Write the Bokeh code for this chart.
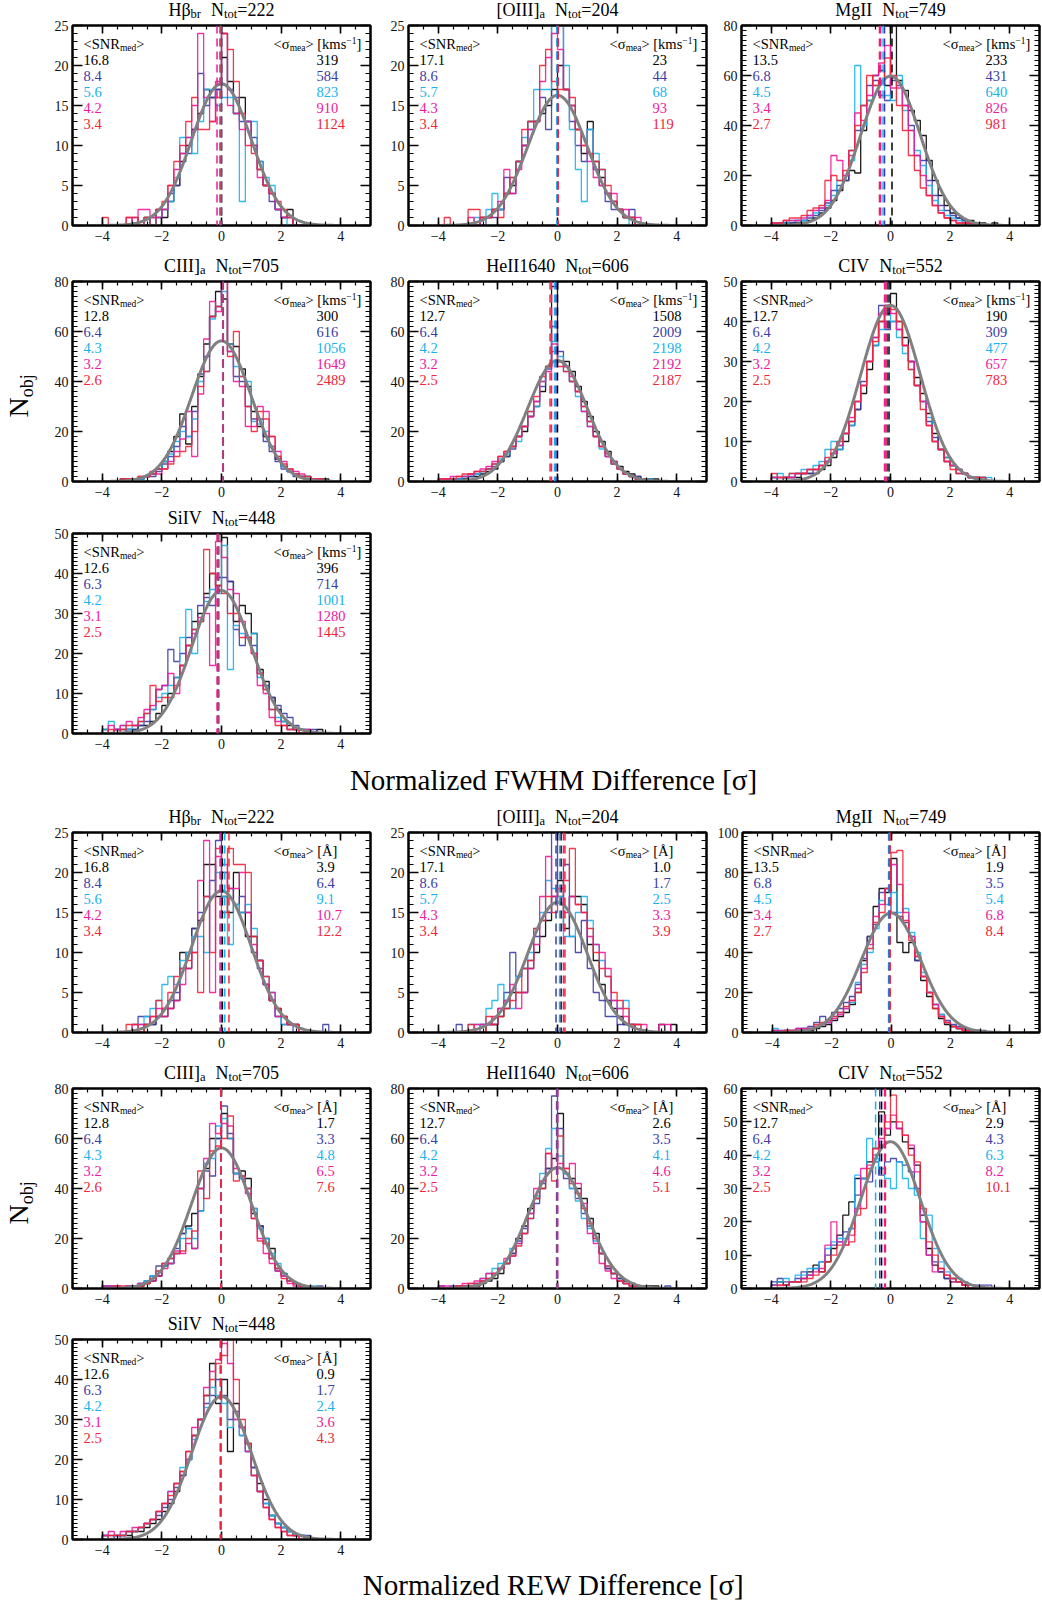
import numpy as np
from bokeh.plotting import figure
from bokeh.models import Label, Span, Range1d, LinearAxis, SingleIntervalTicker, CustomJSTickFormatter
from bokeh.layouts import column, row
from bokeh.embed import file_html
from bokeh.resources import INLINE

# ---------------- data ----------------
LINES = ["Hβ", "[OIII]", "MgII", "CIII]", "HeII1640", "CIV", "SiIV"]
LINE_SUB = ["br", "a", "", "a", "", "", ""]
NTOT = [222, 204, 749, 705, 606, 552, 448]
SNR = [["16.8", "8.4", "5.6", "4.2", "3.4"],
       ["17.1", "8.6", "5.7", "4.3", "3.4"],
       ["13.5", "6.8", "4.5", "3.4", "2.7"],
       ["12.8", "6.4", "4.3", "3.2", "2.6"],
       ["12.7", "6.4", "4.2", "3.2", "2.5"],
       ["12.7", "6.4", "4.2", "3.2", "2.5"],
       ["12.6", "6.3", "4.2", "3.1", "2.5"]]
SIG_FWHM = [["319", "584", "823", "910", "1124"],
            ["23", "44", "68", "93", "119"],
            ["233", "431", "640", "826", "981"],
            ["300", "616", "1056", "1649", "2489"],
            ["1508", "2009", "2198", "2192", "2187"],
            ["190", "309", "477", "657", "783"],
            ["396", "714", "1001", "1280", "1445"]]
SIG_REW = [["3.9", "6.4", "9.1", "10.7", "12.2"],
           ["1.0", "1.7", "2.5", "3.3", "3.9"],
           ["1.9", "3.5", "5.4", "6.8", "8.4"],
           ["1.7", "3.3", "4.8", "6.5", "7.6"],
           ["2.6", "3.5", "4.1", "4.6", "5.1"],
           ["2.9", "4.3", "6.3", "8.2", "10.1"],
           ["0.9", "1.7", "2.4", "3.6", "4.3"]]
YMAX_FWHM = [25, 25, 80, 80, 80, 50, 50]
YMAX_REW = [25, 25, 100, 80, 80, 60, 50]
# medians per series (black, blue, cyan, magenta, red)
MED_FWHM = [[0.0, 0.0, -0.03, -0.15, -0.05],
            [0.0, 0.0, -0.02, 0.02, 0.02],
            [0.05, -0.2, -0.25, -0.33, -0.37],
            [0.04, 0.05, 0.05, 0.06, 0.06],
            [0.0, -0.05, -0.1, -0.2, -0.25],
            [-0.05, -0.1, -0.15, -0.2, -0.15],
            [-0.1, -0.1, -0.12, -0.15, -0.12]]
MED_REW = [[0.03, -0.01, 0.11, -0.05, 0.25],
           [0.12, -0.05, 0.07, 0.2, 0.25],
           [-0.05, -0.08, -0.06, -0.04, -0.03],
           [-0.02, -0.02, -0.02, -0.02, -0.02],
           [-0.02, -0.03, 0.0, 0.0, 0.0],
           [-0.3, -0.36, -0.5, -0.2, -0.17],
           [-0.03, -0.03, -0.03, -0.03, -0.03]]

# histogram counts, 40 bins of width 0.2 starting at -4.0; order black, blue, cyan, magenta, red
H_FWHM_HB = [
    [0,0,0,0,0,0,0,1,0,2,1,3,5,8,10,12,14,17,16,17,21,18,14,16,13,10,7,5,4,2,1,2,0,0,0,0,0,0,0,0],
    [0,0,0,0,0,1,0,0,1,1,2,4,5,9,9,12,19,15,16,17,24,17,16,13,13,11,8,5,3,2,1,1,0,0,0,0,0,0,0,0],
    [0,0,0,0,0,0,0,1,0,1,2,3,6,11,11,9,13,17,17,15,16,16,14,3,13,13,8,6,5,2,1,0,0,0,0,0,0,0,0,0],
    [0,0,0,0,1,0,2,2,1,1,2,5,7,9,11,15,24,16,13,18,24,15,14,12,13,10,6,5,4,2,1,1,0,0,0,0,0,0,0,0],
    [1,0,0,0,1,1,0,1,0,2,3,5,8,10,13,16,12,12,13,16,24,22,18,14,10,9,7,5,4,3,2,1,0,0,0,0,0,0,0,0]]
H_FWHM_OIII = [
    [0,0,0,0,0,0,0,1,1,2,2,4,5,8,10,13,13,14,15,17,20,17,15,12,9,13,8,6,4,3,2,1,1,0,0,0,0,0,0,0],
    [0,0,0,0,0,0,0,0,1,1,2,6,4,8,10,12,13,16,12,25,25,17,13,10,8,12,7,5,3,2,2,1,2,0,0,0,0,0,0,0],
    [0,0,0,0,0,0,1,1,2,4,2,4,6,8,11,13,17,17,17,25,25,20,12,7,3,12,9,7,4,3,2,1,0,0,0,0,0,0,0,0],
    [0,0,0,0,0,1,0,1,1,2,3,7,4,7,10,12,13,18,21,24,22,17,15,12,10,8,6,5,4,4,2,2,1,1,0,0,0,0,0,0],
    [0,1,0,0,0,2,2,1,1,2,1,4,6,8,12,13,13,20,22,18,17,17,16,12,10,9,8,7,5,3,2,1,1,0,0,0,0,0,0,0]]
H_FWHM_MGII = [
    [0,0,1,1,1,2,2,3,5,7,10,14,18,22,21,38,50,60,62,56,80,58,54,46,42,36,26,18,12,8,5,3,2,2,1,1,0,1,0,0],
    [0,1,1,1,2,2,3,4,6,9,14,16,18,30,38,48,56,58,52,50,58,56,48,40,28,26,18,12,8,6,4,3,2,1,1,0,0,0,0,0],
    [1,1,1,2,2,2,4,5,7,8,12,18,20,26,64,40,50,56,57,52,50,60,46,38,30,24,16,10,6,4,3,2,1,1,0,0,0,0,0,0],
    [1,1,2,2,2,3,4,6,7,10,28,26,20,28,45,42,52,60,65,72,55,55,48,38,28,20,12,8,5,3,2,1,1,1,0,0,0,0,0,0],
    [1,1,2,3,3,4,6,7,8,18,20,18,22,30,40,48,60,56,58,67,60,48,38,28,22,15,12,8,5,3,2,1,1,1,1,0,0,0,0,0]]
H_FWHM_CIII = [
    [0,0,0,1,0,1,1,2,3,5,8,12,18,27,15,30,42,55,66,76,73,55,54,45,38,28,22,18,14,9,6,4,3,2,2,1,1,1,0,0],
    [0,0,0,0,0,1,1,2,2,4,7,10,14,22,18,28,43,50,66,70,80,52,42,40,30,25,25,16,12,8,5,4,2,2,1,1,0,0,0,0],
    [0,0,0,0,1,1,1,2,3,5,8,11,16,20,18,25,40,44,65,70,76,55,46,42,40,24,23,20,14,10,6,4,3,2,2,1,0,0,0,0],
    [0,0,0,0,1,1,2,2,4,3,5,8,12,17,28,10,35,57,72,68,80,52,40,38,22,22,30,28,18,12,8,5,4,3,1,1,1,0,0,0],
    [0,0,0,1,1,1,2,2,3,5,5,7,10,12,14,20,38,44,66,70,80,50,60,42,30,20,28,25,18,10,7,5,3,2,2,1,1,0,0,0]]
H_FWHM_HEII = [
    [0,0,1,1,1,2,2,3,4,5,8,10,14,18,20,26,30,36,46,78,48,48,44,38,32,26,20,16,12,8,6,4,3,2,1,1,1,0,0,0],
    [0,1,0,1,2,2,3,4,5,6,8,10,13,18,22,26,32,38,45,62,52,46,40,36,30,24,18,14,10,7,5,3,2,2,1,1,0,0,0,0],
    [1,0,1,1,2,3,3,4,5,7,9,11,14,16,22,28,30,40,46,56,50,44,40,34,28,22,18,13,10,7,5,3,2,1,1,1,0,0,0,0],
    [1,1,2,2,2,3,4,5,6,8,10,12,14,18,22,26,32,40,44,55,48,46,42,36,28,22,18,14,10,8,5,3,2,1,1,0,0,0,0,0],
    [1,1,1,2,3,3,4,4,5,7,10,12,14,18,22,28,34,42,46,52,46,44,40,36,30,24,18,14,11,7,5,3,2,1,1,0,0,0,0,0]]
H_FWHM_CIV = [
    [1,0,1,1,1,2,2,2,3,4,6,8,10,14,18,22,28,34,40,42,47,40,36,30,26,22,17,12,8,6,4,3,2,1,1,1,0,0,0,0],
    [0,1,1,1,2,2,2,3,4,5,7,9,12,15,18,25,30,36,44,38,40,38,34,30,24,20,15,11,8,5,4,2,2,1,1,0,0,0,0,0],
    [1,2,1,2,2,3,3,4,5,8,10,8,12,14,20,24,30,34,38,44,40,36,32,28,24,20,16,10,8,6,4,3,2,1,1,1,1,0,0,0],
    [1,1,1,1,2,2,3,3,4,5,7,9,12,16,20,24,30,36,42,44,42,38,34,30,24,20,14,10,8,5,4,3,2,1,1,0,0,0,0,0],
    [2,1,1,2,2,2,3,3,4,6,8,10,12,15,20,24,30,35,40,44,43,40,34,28,24,18,14,10,8,5,3,2,2,1,1,1,0,0,0,0]]
H_FWHM_SIIV = [
    [1,0,1,1,1,1,2,2,3,5,7,10,14,17,22,28,30,35,40,37,49,38,28,32,30,25,16,13,9,6,3,2,1,1,0,0,1,0,0,0],
    [0,0,1,0,1,1,2,3,6,11,12,21,18,20,24,26,32,34,32,39,39,38,26,22,24,22,15,12,9,7,5,4,2,1,1,1,0,0,0,0],
    [1,3,1,2,1,2,3,5,6,9,10,12,14,24,31,20,28,33,36,35,47,16,27,25,24,25,14,11,6,4,3,1,1,1,0,0,0,0,0,0],
    [0,2,1,2,3,2,4,6,7,11,12,15,10,17,22,25,29,30,17,48,44,36,35,28,24,20,12,10,4,3,2,1,1,0,1,0,0,0,0,0],
    [0,1,0,1,2,2,3,5,12,8,9,9,12,17,22,26,28,46,40,37,35,30,30,24,24,20,15,11,6,2,2,1,1,0,0,0,0,0,0,0]]

H_REW_HB = [
    [0,0,0,0,0,0,0,1,1,2,2,3,4,10,8,13,14,21,21,17,17,15,20,15,12,12,9,6,4,3,2,1,1,0,0,0,0,0,0,0],
    [0,0,0,0,0,0,2,2,1,2,3,4,5,8,10,13,15,17,19,24,20,18,16,17,15,10,8,6,4,2,1,1,0,0,0,0,0,1,0,0],
    [0,0,0,0,0,1,1,2,3,4,6,7,6,9,10,12,12,10,17,20,17,11,16,15,16,13,9,7,5,2,1,1,1,0,0,0,0,0,0,0],
    [0,0,0,0,0,1,1,1,2,3,2,3,4,6,8,10,19,24,5,22,21,18,18,20,15,11,9,6,5,2,2,1,1,0,0,0,0,0,0,0],
    [0,0,0,0,1,1,0,1,2,4,3,5,7,8,9,10,5,17,10,23,15,23,21,21,20,12,9,7,4,3,2,1,1,0,0,0,0,0,0,0]]
H_REW_OIII = [
    [0,0,0,0,0,0,0,0,1,1,2,3,5,5,5,8,10,12,14,17,19,13,17,17,16,11,9,6,4,3,2,1,1,0,0,0,0,1,0,1],
    [0,0,0,1,0,0,0,1,1,1,3,5,10,7,8,9,12,14,15,25,17,21,12,10,14,8,5,4,2,2,1,1,0,0,0,0,0,0,0,0],
    [0,0,0,0,0,1,1,1,3,4,6,4,3,7,8,10,13,15,19,18,17,12,12,15,17,14,11,9,7,4,3,4,1,1,0,0,0,0,0,0],
    [0,0,0,0,0,0,1,1,1,2,3,4,6,3,5,8,11,17,22,17,18,15,17,16,15,12,11,10,8,4,3,2,1,1,1,0,0,1,1,0],
    [0,0,0,0,0,1,0,0,2,1,2,3,4,5,8,9,13,14,17,15,18,19,23,16,15,13,10,8,7,5,4,3,1,1,0,0,0,0,0,0]]
H_REW_MGII = [
    [0,0,0,0,1,1,1,2,3,4,6,8,10,14,20,36,48,63,72,70,87,45,40,45,36,26,18,12,7,4,3,2,1,1,0,0,0,0,0,0],
    [1,0,1,1,2,2,3,5,8,6,10,12,15,18,24,37,48,54,70,72,60,58,55,48,36,28,20,14,9,6,4,3,2,1,1,1,0,0,0,0],
    [2,1,1,1,1,2,2,3,4,5,8,10,12,15,25,34,40,52,66,64,70,60,62,50,40,30,20,14,9,5,3,2,1,1,1,0,0,0,0,0],
    [1,1,1,1,2,2,2,3,4,5,7,9,12,16,22,32,44,58,64,72,84,74,60,48,38,28,20,14,8,5,3,2,1,1,1,0,0,0,0,0],
    [0,0,1,1,1,1,2,4,5,6,8,10,13,16,20,30,42,55,60,72,90,91,56,46,38,28,20,12,8,5,3,2,1,0,0,0,0,0,0,0]]
H_REW_CIII = [
    [1,1,0,0,1,1,1,2,3,5,9,10,14,22,25,30,40,48,60,60,70,60,46,47,44,30,25,20,16,8,6,3,2,1,1,0,0,0,0,0],
    [1,0,1,0,1,1,2,3,5,9,10,12,16,22,24,16,31,47,45,60,73,62,46,44,40,32,25,18,12,7,5,3,2,1,1,0,1,0,0,0],
    [1,1,1,0,1,1,2,3,5,7,9,10,14,20,24,20,31,50,52,65,68,60,46,44,40,32,24,20,14,10,6,3,2,1,1,1,0,0,0,0],
    [1,1,1,0,1,0,2,2,3,5,8,10,15,14,18,16,40,52,66,62,66,65,48,45,38,28,20,14,10,7,5,2,1,1,1,0,0,0,0,0],
    [0,0,1,1,0,1,1,2,4,7,10,12,14,15,20,23,47,36,55,57,60,69,43,45,40,28,19,18,12,8,4,3,2,1,1,0,0,0,0,0]]
H_REW_HEII = [
    [0,0,0,1,1,1,1,2,3,4,6,10,14,20,25,32,36,40,48,52,70,46,44,40,36,28,22,14,8,6,4,3,2,1,1,1,1,0,0,0],
    [1,0,1,1,1,1,2,3,4,6,8,10,14,19,24,30,34,42,48,77,64,44,40,36,30,25,20,14,8,6,4,2,2,1,1,0,0,0,1,0],
    [0,0,0,1,1,1,2,4,6,8,10,10,16,18,22,28,37,46,56,64,53,46,40,35,28,24,19,14,9,6,3,2,1,1,0,0,0,0,0,0],
    [1,1,0,1,2,2,3,4,6,6,8,12,13,18,22,30,40,43,54,48,50,48,50,42,34,22,18,10,7,4,3,2,1,1,1,0,0,0,0,0],
    [0,0,0,1,1,2,2,3,4,6,8,10,13,17,22,28,36,40,54,43,61,48,42,38,32,26,20,14,9,6,3,2,1,1,0,0,0,0,0,0]]
H_REW_CIV = [
    [1,2,1,2,2,3,5,7,5,8,12,16,22,26,33,33,38,42,53,46,50,48,44,42,37,22,12,7,5,3,3,2,1,0,0,0,0,0,0,0],
    [2,3,2,2,3,5,4,6,8,10,13,14,17,18,28,33,32,38,34,38,39,38,37,35,30,20,10,8,5,3,2,2,1,1,1,1,1,0,0,0],
    [1,2,3,2,4,4,6,6,8,12,14,15,15,18,34,33,45,39,36,33,30,38,33,30,28,15,22,12,8,5,3,3,2,1,0,0,0,0,0,0],
    [1,1,1,2,2,3,4,5,6,13,20,14,13,16,24,36,37,40,45,48,52,48,46,43,35,20,10,5,6,4,2,2,1,1,0,0,0,0,0,0],
    [0,1,1,2,2,2,3,4,5,8,10,13,13,14,22,24,36,42,43,50,58,50,46,40,38,24,14,10,6,4,3,2,1,0,0,0,0,0,0,0]]
H_REW_SIIV = [
    [1,0,1,1,1,2,2,3,4,5,7,9,12,16,20,26,30,36,44,34,40,22,34,28,24,18,14,10,6,4,3,2,1,1,0,0,0,0,0,0],
    [1,1,0,1,2,2,3,4,5,6,8,10,13,16,20,26,30,34,36,40,36,30,32,26,22,18,12,9,6,4,3,2,1,1,1,0,0,0,0,0],
    [1,0,1,1,2,2,3,4,5,7,9,12,14,18,20,25,30,33,38,36,34,28,30,26,22,16,12,9,6,4,3,2,1,1,0,0,0,0,0,0],
    [1,2,1,2,2,3,3,4,5,7,9,12,14,17,22,28,30,38,42,45,49,44,30,28,22,16,12,8,5,3,2,1,1,0,0,0,0,0,0,0],
    [0,1,1,1,2,2,3,4,5,7,9,11,14,17,22,26,30,36,40,44,46,52,40,30,24,16,12,8,5,3,2,1,1,0,0,0,0,0,0,0]]

HIST_FWHM = [H_FWHM_HB, H_FWHM_OIII, H_FWHM_MGII, H_FWHM_CIII, H_FWHM_HEII, H_FWHM_CIV, H_FWHM_SIIV]
HIST_REW = [H_REW_HB, H_REW_OIII, H_REW_MGII, H_REW_CIII, H_REW_HEII, H_REW_CIV, H_REW_SIIV]
BIN_LO = -4.0
BIN_W = 0.2

# ---------------- style ----------------
FONT = "Liberation Serif"
COLORS = ["#000000", "#3c3ca6", "#18b2f0", "#f0189c", "#f22438"]
GRAY = "#808080"
BASE_FIX = 0.33  # labels render ~0.33 em below the requested alphabetic baseline

CW = {' ': 250, '[': 333, ']': 333, '<': 564, '>': 564, '=': 564, '.': 250, '-': 333, '−': 564,
      'β': 500, 'σ': 549, 'Å': 722}
for ch in "0123456789":
    CW[ch] = 500
CW.update(dict(zip("ABCDEFGHIJKLMNOPQRSTUVWXYZ",
                   [722, 667, 667, 722, 611, 556, 722, 722, 333, 389, 722, 611, 889, 722, 722, 556, 722, 667, 556, 611, 722, 722, 944, 722, 722, 611])))
CW.update(dict(zip("abcdefghijklmnopqrstuvwxyz",
                   [444, 500, 444, 500, 444, 333, 500, 500, 278, 278, 500, 278, 778, 500, 500, 500, 500, 333, 389, 278, 500, 500, 722, 500, 500, 444])))


def tw(s, size):
    return sum(CW.get(c, 500) for c in s) / 1000.0 * size


def put_text(p, pieces, x, y, xoff, yoff, color, center=False):
    # pieces: (text, size, dy, gap_after)
    total = sum(tw(t, s) + g for t, s, dy, g in pieces)
    cur = xoff - (total / 2.0 if center else 0.0)
    for t, s, dy, g in pieces:
        if t:
            p.add_layout(Label(x=x, y=y, x_offset=cur, y_offset=yoff + dy + BASE_FIX * s, text=t,
                               text_font=FONT, text_font_size=f"{s}px", text_color=color,
                               text_align="left", text_baseline="alphabetic"))
        cur += tw(t, s) + g


MINUS_FMT = "return tick < 0 ? '\u2212' + Math.abs(tick) : String(tick);"


def style_axis(ax, show, major_in, minor_in, standoff):
    ax.axis_line_width = 2
    ax.axis_line_color = "black"
    ax.major_tick_in = major_in
    ax.major_tick_out = 0
    ax.minor_tick_in = minor_in
    ax.minor_tick_out = 0
    ax.major_tick_line_width = 1.6
    ax.minor_tick_line_width = 1.2
    ax.major_tick_line_color = "black"
    ax.minor_tick_line_color = "black"
    if show:
        ax.major_label_text_font = FONT
        ax.major_label_text_font_size = "14px"
        ax.major_label_text_color = "#111111"
        ax.major_label_standoff = standoff
    else:
        ax.major_label_text_font_size = "1px"
        ax.major_label_text_color = None
        ax.major_label_standoff = 0


def blank_fig(width, height, xr, yr, bl=0, br=0):
    f = figure(width=width, height=height, x_range=xr, y_range=yr, title=None,
               output_backend="svg", toolbar_location=None, x_axis_type=None, y_axis_type=None,
               min_border_left=bl, min_border_right=br, min_border_top=0, min_border_bottom=0)
    f.grid.visible = False
    f.outline_line_color = None
    return f


TOP_BORDER = 5


def panel(idx, kind, width, strip_h, height, bl, br, bb):
    ymax = (YMAX_FWHM if kind == "FWHM" else YMAX_REW)[idx]
    hist = (HIST_FWHM if kind == "FWHM" else HIST_REW)[idx]
    meds = (MED_FWHM if kind == "FWHM" else MED_REW)[idx]
    sigs = (SIG_FWHM if kind == "FWHM" else SIG_REW)[idx]
    ntot = NTOT[idx]
    yint = 5 if ymax <= 25 else (10 if ymax <= 60 else 20)
    yminor = 5 if yint == 5 else 10

    # title strip above the panel, frame aligned with the panel frame
    s = blank_fig(width, strip_h, Range1d(-5, 5), Range1d(0, strip_h), bl, br)
    pieces = [(LINES[idx], 18, 0, 0)]
    if LINE_SUB[idx]:
        pieces.append((LINE_SUB[idx], 12.5, -3, 0))
    pieces[-1] = (pieces[-1][0], pieces[-1][1], pieces[-1][2], 10)
    pieces += [("N", 18, 0, 0), ("tot", 12.5, -3, 0), ("=%d" % ntot, 18, 0, 0)]
    put_text(s, pieces, 0.0, 5, 0, 0, "black", center=True)

    p = figure(width=width, height=height, x_range=Range1d(-5, 5), y_range=Range1d(0, ymax),
               title=None, output_backend="svg", toolbar_location=None,
               min_border_left=bl, min_border_right=br, min_border_top=TOP_BORDER,
               min_border_bottom=bb)
    p.grid.visible = False
    p.outline_line_color = "black"
    p.outline_line_width = 2

    p.xaxis.ticker = SingleIntervalTicker(interval=2, num_minor_ticks=4)
    p.xaxis.formatter = CustomJSTickFormatter(code=MINUS_FMT)
    p.yaxis.ticker = SingleIntervalTicker(interval=yint, num_minor_ticks=yminor)
    style_axis(p.xaxis[0], True, 8, 4, 5)
    style_axis(p.yaxis[0], True, 10, 5, 4)
    top = LinearAxis(ticker=SingleIntervalTicker(interval=2, num_minor_ticks=4))
    style_axis(top, False, 8, 4, 0)
    p.add_layout(top, "above")
    right = LinearAxis(ticker=SingleIntervalTicker(interval=yint, num_minor_ticks=yminor))
    style_axis(right, False, 10, 5, 0)
    p.add_layout(right, "right")

    edges = [BIN_LO + BIN_W * i for i in range(len(hist[0]) + 1)]
    xs = [-5.0] + edges + [5.0]
    for k in range(5):
        ys = [0] + list(hist[k]) + [0, 0]
        p.step(xs, ys, mode="after", line_color=COLORS[k], line_width=1.3, line_alpha=0.9)

    # expected unit normal scaled to N_tot and bin width
    gx = np.linspace(-5, 5, 401)
    gy = ntot * BIN_W * np.exp(-0.5 * gx ** 2) / np.sqrt(2 * np.pi)
    p.line(gx, gy, line_color=GRAY, line_width=3)

    for k in range(5):
        p.add_layout(Span(location=meds[k], dimension="height", line_color=COLORS[k],
                          line_width=1.5, line_dash="8 5"))

    # left column: SNR
    put_text(p, [("<SNR", 14.5, 0, 0), ("med", 9.5, -3, 0), (">", 14.5, 0, 0)],
             -5.0, ymax, 11, -23, "black")
    for k in range(5):
        put_text(p, [(SNR[idx][k], 14.5, 0, 0)], -5.0, ymax, 11, -39.5 - 16 * k, COLORS[k])
    # right column: sigma
    if kind == "FWHM":
        hdr = [("<σ", 14.5, 0, 0), ("mea", 9.5, -3, 0), ("> [kms", 14.5, 0, 0),
               ("−1", 9.5, 5, 0), ("]", 14.5, 0, 0)]
    else:
        hdr = [("<σ", 14.5, 0, 0), ("mea", 9.5, -3, 0), ("> [Å]", 14.5, 0, 0)]
    put_text(p, hdr, 5.0, ymax, -97, -23, "black")
    for k in range(5):
        put_text(p, [(sigs[k], 14.5, 0, 0)], 5.0, ymax, -54, -39.5 - 16 * k, COLORS[k])
    return column(s, p)


def nobj_fig(height, base_y):
    w = 44
    f = blank_fig(w, height, Range1d(0, w), Range1d(0, height))
    f.add_layout(Label(x=27 - BASE_FIX * 28, y=base_y, text="N", angle=np.pi / 2, text_font=FONT,
                       text_font_size="28px", text_color="black",
                       text_align="left", text_baseline="alphabetic"))
    f.add_layout(Label(x=32 - BASE_FIX * 18, y=base_y + tw("N", 28), text="obj",
                       angle=np.pi / 2, text_font=FONT, text_font_size="18px",
                       text_color="black", text_align="left", text_baseline="alphabetic"))
    return f


def title_fig(height, text, baseline_from_top):
    w = 1041
    t = blank_fig(w, height, Range1d(0, w), Range1d(0, height))
    t.add_layout(Label(x=553, y=height - baseline_from_top + BASE_FIX * 29, text=text,
                       text_font=FONT, text_font_size="29px", text_color="black",
                       text_align="center", text_baseline="alphabetic"))
    return t


# column geometry: (figure width, left border, right border) -> frames at x 72, 408, 741
COLS = [(380, 72, 10), (334, 28, 8), (327, 27, 2)]
NOBJ_W = 44


def half(kind, rows):
    (s1, h1, b1), (s2, h2, b2), (s3, h3, b3) = rows
    r1 = row([panel(i, kind, COLS[i][0], s1, h1, COLS[i][1], COLS[i][2], b1) for i in range(3)])
    c1 = panel(3, kind, COLS[0][0] - NOBJ_W, s2, h2, COLS[0][1] - NOBJ_W, COLS[0][2], b2)
    r2 = row([nobj_fig(s2 + h2, b2 + 64), c1]
             + [panel(3 + i, kind, COLS[i][0], s2, h2, COLS[i][1], COLS[i][2], b2) for i in (1, 2)])
    r3 = row([panel(6, kind, COLS[0][0], s3, h3, COLS[0][1], COLS[0][2], b3)])
    return [r1, r2, r3]


layout = column(
    half("FWHM", [(20, 236, 31), (20, 232, 27), (20, 232, 27)])
    + [title_fig(48, "Normalized FWHM Difference [σ]", 29)]
    + half("REW", [(19, 236, 31), (20, 231, 26), (20, 231, 26)])
    + [title_fig(38, "Normalized REW Difference [σ]", 29)]
)

open("out.html", "w").write(file_html(layout, INLINE))
